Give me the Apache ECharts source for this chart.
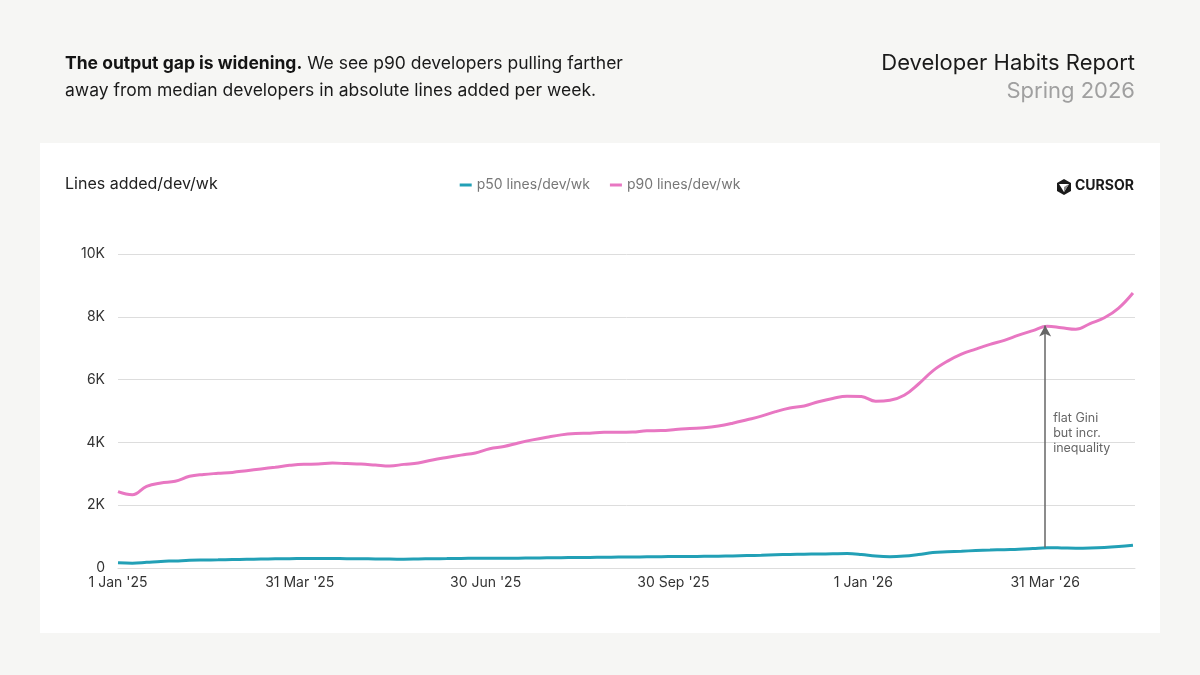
<!DOCTYPE html>
<html>
<head>
<meta charset="utf-8">
<script src="https://cdn.jsdelivr.net/npm/echarts@6/dist/echarts.min.js"></script>
<style>
  html, body { margin: 0; padding: 0; background: #f6f6f4; }
  #main { width: 1200px; height: 675px; }
</style>
</head>
<body>
<div id="main"></div>
<script>
// weekly points starting 1 Jan 2025
const startDate = new Date(2025, 0, 1);
const axisEnd = new Date(2026, 4, 14);

// p90 lines added per dev per week
const p90Values = [
  2430, 2330, 2600, 2710, 2760, 2920, 2980, 3015, 3045, 3100,
  3155, 3210, 3270, 3305, 3310, 3340, 3325, 3310, 3280, 3250,
  3300, 3345, 3440, 3520, 3595, 3665, 3800, 3870, 3980, 4080,
  4165, 4240, 4280, 4295, 4320, 4320, 4330, 4370, 4378, 4410,
  4445, 4465, 4520, 4610, 4720, 4835, 4980, 5095, 5160, 5295,
  5400, 5470, 5460, 5310, 5340, 5500, 5860, 6280, 6580, 6810,
  6970, 7120, 7250, 7415, 7560, 7700, 7650, 7600, 7785, 7970,
  8280, 8760
];

// p50 lines added per dev per week
const p50Values = [
  170, 155, 180, 210, 225, 245, 255, 262, 270, 278,
  285, 292, 298, 300, 300, 300, 298, 295, 290, 283,
  282, 288, 295, 300, 305, 308, 310, 310, 312, 318,
  325, 330, 335, 338, 342, 348, 352, 356, 360, 365,
  368, 372, 375, 385, 395, 405, 420, 432, 440, 445,
  452, 458, 430, 380, 360, 380, 430, 490, 515, 535,
  555, 570, 585, 598, 620, 645, 640, 632, 638, 655,
  685, 725
];

// x-axis tick dates
const tickDates = [
  new Date(2025, 0, 1), new Date(2025, 2, 31), new Date(2025, 5, 30),
  new Date(2025, 8, 30), new Date(2026, 0, 1), new Date(2026, 2, 31)
];

// annotation
const noteDate = new Date(2026, 2, 31);
const noteFrom = 650;
const noteTo = 7720;
const noteText = 'flat Gini\nbut incr.\ninequality';

const months = ['Jan','Feb','Mar','Apr','May','Jun','Jul','Aug','Sep','Oct','Nov','Dec'];
const fmtDate = d => d.getDate() + ' ' + months[d.getMonth()] + " '" + String(d.getFullYear()).slice(2);

const weekDates = p90Values.map((_, i) => {
  const d = new Date(startDate);
  d.setDate(d.getDate() + i * 7);
  return d;
});

const p90Data = weekDates.map((d, i) => [d.getTime(), p90Values[i]]);
const p50Data = weekDates.map((d, i) => [d.getTime(), p50Values[i]]);

const FONT = 'Inter, "Noto Sans", sans-serif';
const P50_COLOR = '#22a0b6';
const P90_COLOR = '#e877c2';

const myChart = echarts.init(document.getElementById('main'));

const option = {
  backgroundColor: '#f6f6f4',
  textStyle: { fontFamily: FONT },
  animation: false,
  graphic: [
    // white panel
    { type: 'rect', shape: { x: 40, y: 143, width: 1120, height: 490 }, style: { fill: '#ffffff' }, z: -10 },
    // heading
    {
      type: 'text', left: 65, top: 50,
      style: {
        text: '{b|The output gap is widening.} We see p90 developers pulling farther\naway from median developers in absolute lines added per week.',
        rich: { b: { fontWeight: 'bold', fontSize: 17.5, fill: '#141414', fontFamily: FONT } },
        fontSize: 17.5, lineHeight: 27, fill: '#1a1a1a', fontFamily: FONT
      }
    },
    {
      type: 'text', right: 65, top: 52,
      style: { text: 'Developer Habits Report', fontSize: 22, fill: '#1a1a1a', fontFamily: FONT, align: 'right' }
    },
    {
      type: 'text', right: 65, top: 80,
      style: { text: 'Spring 2026', fontSize: 22, fill: '#a0a0a0', fontFamily: FONT, align: 'right' }
    },
    // axis title
    {
      type: 'text', left: 65, top: 176,
      style: { text: 'Lines added/dev/wk', fontSize: 16, fill: '#222', fontFamily: FONT }
    },
    // cursor logo
    {
      type: 'polygon',
      shape: { points: [[1064, 179], [1071, 183], [1071, 191], [1064, 195], [1057, 191], [1057, 183]] },
      style: { fill: '#1a1a1a' }
    },
    {
      type: 'polygon',
      shape: { points: [[1059, 184], [1069, 184], [1064, 192]] },
      style: { fill: '#ffffff' }
    },
    {
      type: 'polygon',
      shape: { points: [[1064, 187], [1069, 184], [1064, 192]] },
      style: { fill: '#8a8a8a' }
    },
    {
      type: 'text', left: 1075, top: 179,
      style: { text: 'CURSOR', fontSize: 14, fontWeight: 'bold', fill: '#1a1a1a', fontFamily: FONT }
    }
  ],
  legend: {
    top: 173,
    left: 'center',
    itemWidth: 12,
    itemHeight: 3,
    itemGap: 20,
    icon: 'rect',
    textStyle: { color: '#777', fontSize: 14, fontFamily: FONT },
    data: ['p50 lines/dev/wk', 'p90 lines/dev/wk']
  },
  grid: { left: 118, right: 65, top: 254, bottom: 107 },
  xAxis: {
    type: 'value',
    min: startDate.getTime(),
    max: axisEnd.getTime(),
    axisLine: { show: true, lineStyle: { color: '#dddddd' } },
    axisTick: { show: false },
    splitLine: { show: false },
    axisLabel: {
      customValues: tickDates.map(d => d.getTime()),
      formatter: v => fmtDate(new Date(v)),
      color: '#333',
      fontSize: 14,
      margin: 8,
      fontFamily: FONT
    }
  },
  yAxis: {
    type: 'value',
    min: 0,
    max: 10000,
    interval: 2000,
    axisLine: { show: false },
    axisTick: { show: false },
    splitLine: { lineStyle: { color: '#dddddd', width: 1 } },
    axisLabel: {
      formatter: v => v === 0 ? '0' : (v / 1000) + 'K',
      color: '#333',
      fontSize: 14,
      margin: 13,
      fontFamily: FONT
    }
  },
  series: [
    {
      name: 'p50 lines/dev/wk',
      type: 'line',
      data: p50Data,
      smooth: 0.4,
      showSymbol: false,
      lineStyle: { color: P50_COLOR, width: 3 },
      itemStyle: { color: P50_COLOR },
      markLine: {
        silent: true,
        symbol: ['none', 'arrow'],
        symbolSize: [9, 11],
        label: { show: false },
        lineStyle: { color: '#666', width: 1.5, type: 'solid' },
        data: [[
          { coord: [noteDate.getTime(), noteFrom] },
          { coord: [noteDate.getTime(), noteTo] }
        ]]
      },
      markPoint: {
        silent: true,
        symbol: 'circle',
        symbolSize: 0,
        data: [{ coord: [noteDate.getTime(), 4300] }],
        label: {
          show: true,
          position: 'right',
          distance: 8,
          formatter: noteText,
          color: '#666',
          fontSize: 12.5,
          lineHeight: 15,
          align: 'left',
          fontFamily: FONT
        }
      }
    },
    {
      name: 'p90 lines/dev/wk',
      type: 'line',
      data: p90Data,
      smooth: 0.4,
      showSymbol: false,
      lineStyle: { color: P90_COLOR, width: 3 },
      itemStyle: { color: P90_COLOR }
    }
  ]
};

myChart.setOption(option);

window.addEventListener('resize', () => {
  myChart.resize();
});
</script>
</body>
</html>
